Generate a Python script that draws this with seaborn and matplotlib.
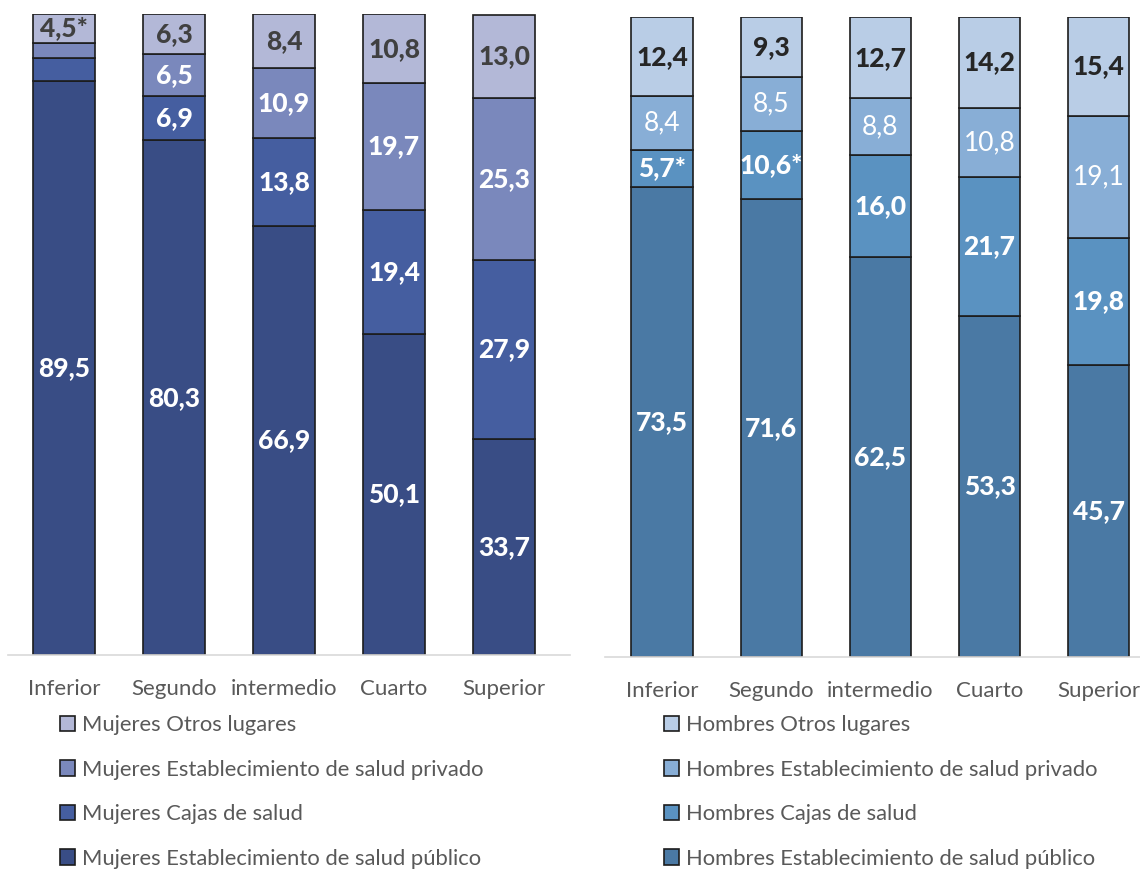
import numpy as np
import pandas as pd
import matplotlib
matplotlib.use("Agg")
import matplotlib.pyplot as plt
import seaborn as sns
from matplotlib.patches import Patch

quintiles = ["Inferior", "Segundo", "intermedio", "Cuarto", "Superior"]

# Mujeres (%)
muj_publico = [89.5, 80.3, 66.9, 50.1, 33.7]
muj_cajas = [3.7, 6.9, 13.8, 19.4, 27.9]
muj_privado = [2.3, 6.5, 10.9, 19.7, 25.3]
muj_otros = [4.5, 6.3, 8.4, 10.8, 13.0]
muj_show = {"cajas": [False, True, True, True, True],
            "privado": [False, True, True, True, True]}
muj_star = {"otros": [True, False, False, False, False]}

# Hombres (%)
hom_publico = [73.5, 71.6, 62.5, 53.3, 45.7]
hom_cajas = [5.7, 10.6, 16.0, 21.7, 19.8]
hom_privado = [8.4, 8.5, 8.8, 10.8, 19.1]
hom_otros = [12.4, 9.3, 12.7, 14.2, 15.4]
hom_star = {"cajas": [True, True, False, False, False]}

series_names = ["Establecimiento de salud público", "Cajas de salud",
                "Establecimiento de salud privado", "Otros lugares"]

muj_colors = ["#394D85", "#455EA0", "#7A88BC", "#B3B8D7"]
hom_colors = ["#4A79A4", "#5A92C1", "#88AED6", "#B9CDE6"]

FONT = ["Lato", "DejaVu Sans"]
sns.set_theme(style="white")
plt.rcParams["font.family"] = FONT

fig = plt.figure(figsize=(11.4, 8.73), dpi=100)


def fmt(v, star=False):
    s = f"{v:.1f}".replace(".", ",")
    return s + "*" if star else s


def draw_panel(ax, prefix, values, colors, label_style, show, stars):
    bottom = np.zeros(len(quintiles))
    keys = ["publico", "cajas", "privado", "otros"]
    for k, vals, col, (tcolor, tweight) in zip(keys, values, colors, label_style):
        df = pd.DataFrame({"q": quintiles, "v": vals})
        sns.barplot(data=df, x="q", y="v", order=quintiles, color=col,
                    saturation=1, width=0.56, bottom=bottom, errorbar=None,
                    edgecolor="#1c1c1c", linewidth=1.2, ax=ax)
        cont = ax.containers[-1]
        sh = show.get(k, [True] * len(vals))
        st = stars.get(k, [False] * len(vals))
        labels = [fmt(v, s) if o else "" for v, s, o in zip(vals, st, sh)]
        ax.bar_label(cont, labels=labels, label_type="center", color=tcolor,
                     fontsize=19, fontweight=tweight, family=FONT)
        bottom = bottom + np.array(vals)
    ax.set_ylim(0, 100)
    ax.set_xlabel("")
    ax.set_ylabel("")
    ax.set_yticks([])
    for s in ["top", "right", "left"]:
        ax.spines[s].set_visible(False)
    ax.spines["bottom"].set_color("#D9D9D9")
    ax.spines["bottom"].set_linewidth(1.2)
    ax.tick_params(axis="x", length=0, pad=17, labelsize=16, labelcolor="#595959")
    handles = [Patch(facecolor=c, edgecolor="#1c1c1c", linewidth=1.2) for c in colors][::-1]
    names = [f"{prefix} {n}" for n in series_names][::-1]
    return handles, names


ax1 = fig.add_axes([8 / 1140, 218 / 873, 562 / 1140, 641 / 873])
h1, n1 = draw_panel(ax1, "Mujeres",
                    [muj_publico, muj_cajas, muj_privado, muj_otros], muj_colors,
                    [("white", 900), ("white", 900), ("white", 900), ("#404040", 900)],
                    muj_show, muj_star)
ax1.set_xlim(-0.509, 4.6)

ax2 = fig.add_axes([605 / 1140, 216 / 873, 535 / 1140, 640 / 873])
h2, n2 = draw_panel(ax2, "Hombres",
                    [hom_publico, hom_cajas, hom_privado, hom_otros], hom_colors,
                    [("white", 900), ("white", 900), ("white", "normal"), ("#262626", 900)],
                    {}, hom_star)
ax2.set_xlim(-0.522, 4.377)

for h, n, x in [(h1, n1, 60 / 1140), (h2, n2, 664 / 1140)]:
    leg = fig.legend(h, n, loc="upper left", bbox_to_anchor=(x, 1 - 715 / 873),
                     frameon=False, fontsize=15.8, handlelength=0.7, handleheight=0.7,
                     handletextpad=0.3, labelspacing=1.12, borderpad=0, borderaxespad=0)
    for t in leg.get_texts():
        t.set_color("#595959")

fig.savefig("out.png", dpi=100)
